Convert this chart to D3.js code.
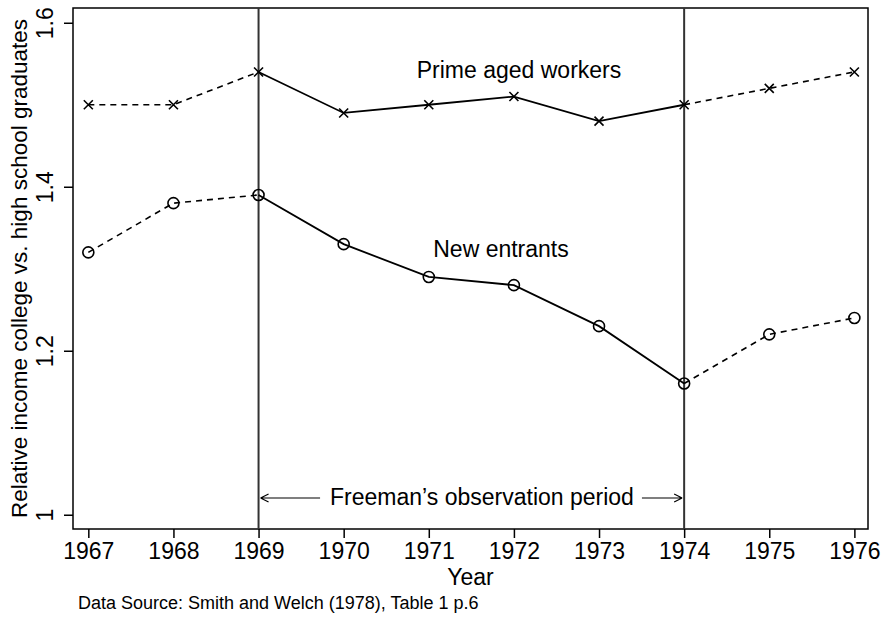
<!DOCTYPE html>
<html>
<head>
<meta charset="utf-8">
<script src="https://cdnjs.cloudflare.com/ajax/libs/d3/7.8.5/d3.min.js"></script>
<style>
  body { margin: 0; background: #fff; }
  text { font-family: "Liberation Sans", Arial, sans-serif; fill: #000; }
</style>
</head>
<body>
<div class="chart"></div>
<script>
var svgWidth = 881;
var svgHeight = 620;

var margin = { top: 8, right: 13, bottom: 91, left: 73 };
var width = svgWidth - margin.left - margin.right;
var height = svgHeight - margin.top - margin.bottom;

// data
var years = [1967, 1968, 1969, 1970, 1971, 1972, 1973, 1974, 1975, 1976];
var primeAged = [1.50, 1.50, 1.54, 1.49, 1.50, 1.51, 1.48, 1.50, 1.52, 1.54];
var newEntrants = [1.32, 1.38, 1.39, 1.33, 1.29, 1.28, 1.23, 1.16, 1.22, 1.24];
var yTicks = [1, 1.2, 1.4, 1.6];
var periodStart = 1969;
var periodEnd = 1974;

var svg = d3.select(".chart")
  .append("svg")
  .attr("width", svgWidth)
  .attr("height", svgHeight);

var chart = svg.append("g")
  .attr("transform", "translate(" + margin.left + "," + margin.top + ")");

var xScale = d3.scaleLinear()
  .domain([1966.82, 1976.16])
  .range([0, width]);

var yScale = d3.scaleLinear()
  .domain([0.9826, 1.618])
  .range([height, 0]);

var fmtY = function(d) { return d === 1 ? "1" : d3.format(".1f")(d); };

// axes
var bottomAxis = d3.axisBottom(xScale)
  .tickValues(years)
  .tickFormat(d3.format("d"))
  .tickSizeInner(9)
  .tickSizeOuter(0)
  .tickPadding(5);

var leftAxis = d3.axisLeft(yScale)
  .tickValues(yTicks)
  .tickFormat(fmtY)
  .tickSizeInner(9)
  .tickSizeOuter(0);

var gx = chart.append("g")
  .attr("transform", "translate(0," + height + ")")
  .call(bottomAxis);
gx.select(".domain").remove();
gx.selectAll("line").attr("stroke", "#000").attr("stroke-width", 1.5);
gx.selectAll("text")
  .style("font-size", "23px")
  .attr("dy", "0.71em")
  .attr("fill", "#000");

var gy = chart.append("g").call(leftAxis);
gy.select(".domain").remove();
gy.selectAll("line").attr("stroke", "#000").attr("stroke-width", 1.5);
gy.selectAll("text").remove();
gy.selectAll(".tick").append("text")
  .attr("transform", "translate(-20,0) rotate(-90)")
  .attr("text-anchor", "middle")
  .style("font-size", "23px")
  .text(fmtY);

// plot frame
chart.append("rect")
  .attr("width", width)
  .attr("height", height)
  .attr("fill", "none")
  .attr("stroke", "#000")
  .attr("stroke-width", 1.5);

// vertical period lines
[periodStart, periodEnd].forEach(function(yr) {
  chart.append("line")
    .attr("x1", xScale(yr)).attr("x2", xScale(yr))
    .attr("y1", 0).attr("y2", height)
    .attr("stroke", "#333")
    .attr("stroke-width", 2);
});

var line = d3.line()
  .x(function(d) { return xScale(d[0]); })
  .y(function(d) { return yScale(d[1]); });

function drawSeries(values) {
  var pts = years.map(function(y, i) { return [y, values[i]]; });
  var before = pts.filter(function(d) { return d[0] <= periodStart; });
  var during = pts.filter(function(d) { return d[0] >= periodStart && d[0] <= periodEnd; });
  var after = pts.filter(function(d) { return d[0] >= periodEnd; });
  [before, after].forEach(function(seg) {
    chart.append("path")
      .attr("d", line(seg))
      .attr("fill", "none")
      .attr("stroke", "#000")
      .attr("stroke-width", 1.6)
      .attr("stroke-dasharray", "6,5");
  });
  chart.append("path")
    .attr("d", line(during))
    .attr("fill", "none")
    .attr("stroke", "#000")
    .attr("stroke-width", 1.8);
  return pts;
}

var primePts = drawSeries(primeAged);
var newPts = drawSeries(newEntrants);

// x markers
chart.selectAll(".xmark")
  .data(primePts)
  .enter().append("path")
    .attr("class", "xmark")
    .attr("transform", function(d) { return "translate(" + xScale(d[0]) + "," + yScale(d[1]) + ")"; })
    .attr("d", "M-4.5,-4.5L4.5,4.5M-4.5,4.5L4.5,-4.5")
    .attr("stroke", "#000")
    .attr("stroke-width", 1.6);

// circle markers
chart.selectAll(".omark")
  .data(newPts)
  .enter().append("circle")
    .attr("class", "omark")
    .attr("cx", function(d) { return xScale(d[0]); })
    .attr("cy", function(d) { return yScale(d[1]); })
    .attr("r", 5.5)
    .attr("fill", "none")
    .attr("stroke", "#000")
    .attr("stroke-width", 1.6);

// series labels
chart.append("text")
  .attr("x", 519 - margin.left)
  .attr("y", 78 - margin.top)
  .attr("text-anchor", "middle")
  .style("font-size", "23px")
  .text("Prime aged workers");

chart.append("text")
  .attr("x", 501 - margin.left)
  .attr("y", 257 - margin.top)
  .attr("text-anchor", "middle")
  .style("font-size", "23px")
  .text("New entrants");

// observation period annotation
var annY = 498 - margin.top;
var annText = chart.append("text")
  .attr("x", 482 - margin.left)
  .attr("y", annY + 7)
  .attr("text-anchor", "middle")
  .style("font-size", "23px")
  .text("Freeman\u2019s observation period");

var bb = annText.node().getBBox();
var x0 = xScale(periodStart) + 2, x1 = xScale(periodEnd) - 2;
chart.append("path")
  .attr("d", "M" + x0 + "," + annY + "H" + (bb.x - 10) +
             "M" + x0 + "," + annY + "l8,-4M" + x0 + "," + annY + "l8,4")
  .attr("fill", "none").attr("stroke", "#000").attr("stroke-width", 1.2);
chart.append("path")
  .attr("d", "M" + (bb.x + bb.width + 8) + "," + annY + "H" + x1 +
             "M" + x1 + "," + annY + "l-8,-4M" + x1 + "," + annY + "l-8,4")
  .attr("fill", "none").attr("stroke", "#000").attr("stroke-width", 1.2);

// axis titles
svg.append("text")
  .attr("transform", "translate(27," + (margin.top + height / 2) + ") rotate(-90)")
  .attr("text-anchor", "middle")
  .style("font-size", "22.5px")
  .text("Relative income college vs. high school graduates");

svg.append("text")
  .attr("x", margin.left + width / 2)
  .attr("y", 585)
  .attr("text-anchor", "middle")
  .style("font-size", "23px")
  .text("Year");

svg.append("text")
  .attr("x", 78)
  .attr("y", 609)
  .style("font-size", "18px")
  .text("Data Source: Smith and Welch (1978), Table 1 p.6");
</script>
</body>
</html>
